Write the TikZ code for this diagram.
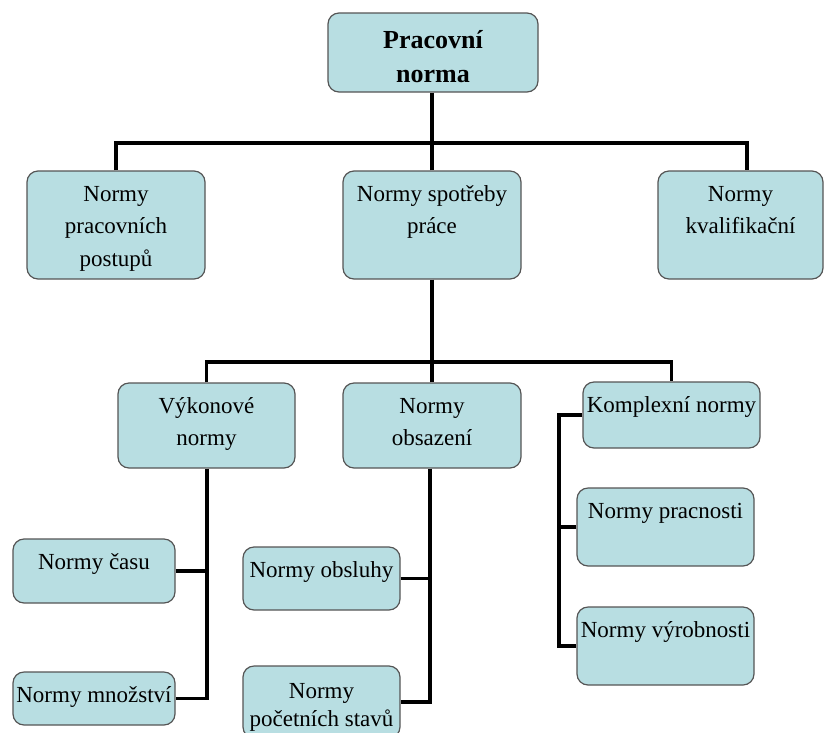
\documentclass[tikz,border=0pt]{standalone}
\usepackage{fontspec}
\setmainfont{Liberation Serif}
\definecolor{boxfill}{RGB}{184,222,226}
\definecolor{boxline}{RGB}{85,85,85}
\begin{document}
\begin{tikzpicture}[x=1pt,y=-1pt,
  box/.style={draw=boxline,line width=1.2pt,fill=boxfill,rounded corners=11pt,inner sep=0pt},
  lbl/.style={anchor=north,inner sep=0pt,align=center,yshift=-8pt,
    font=\fontsize{23}{32.5}\selectfont},
  conn/.style={line width=3.6pt,black}]
\useasboundingbox (0,0) rectangle (825,732);
% boxes (given by corners)
\newcommand{\mkbox}[7][]{%
  \node[box,minimum width=#5-#3,minimum height=#6-#4] (#2) at ({(#3+#5)/2},{(#4+#6)/2}) {};
  \node[lbl,#1] (#2t) at (#2.north) {\strut #7};}
\mkbox[font=\fontsize{26}{34}\selectfont\bfseries,yshift=-4pt]{top}{328}{13}{538}{92}{Pracovní\\norma}
\mkbox{npp}{27}{171}{205}{279}{Normy\\pracovních\\postupů}
\mkbox{nsp}{343}{171}{521}{279}{Normy spotřeby\\práce}
\mkbox{nkv}{658}{171}{823}{279}{Normy\\kvalifikační}
\mkbox{vyk}{118}{383}{295}{468}{Výkonové\\normy}
\mkbox{obs}{343}{383}{521}{468}{Normy\\obsazení}
\mkbox{kom}{583}{382}{760}{448}{Komplexní normy}
\mkbox{cas}{13}{539}{175}{603}{Normy času}
\mkbox{mno}{13}{672}{175}{725}{Normy množství}
\mkbox{obl}{243}{547}{400}{610}{Normy obsluhy}
\mkbox[font=\fontsize{23}{28}\selectfont,yshift=-5pt]{poc}{243}{666}{400}{738}{Normy\\početních stavů}
\mkbox{pra}{577}{488}{754}{566}{Normy pracnosti}
\mkbox{vyr}{577}{607}{754}{685}{Normy výrobnosti}
% bus coordinates
\coordinate (b1) at (432,143);
\coordinate (b2) at (432,362);
\coordinate (s1) at (207,0);
\coordinate (s2) at (430,0);
\coordinate (s3) at (559,0);
\coordinate (k1) at (747,0);
% level 1
\draw[conn] (top.south -| b1) -- (b1);
\draw[conn] (npp.north) |- (b1);
\draw[conn] (b1) -| (nkv.north -| k1);
\draw[conn] (nsp.north -| b1) -- (b1);
% level 2
\draw[conn] (nsp.south -| b2) -- (b2);
\draw[conn] (vyk.north) |- (b2);
\draw[conn] (b2) -| (kom.north);
\draw[conn] (obs.north -| b2) -- (b2);
% spines
\draw[conn] (vyk.south -| s1) -- (mno.east -| s1) -- (mno.east);
\draw[conn] (cas.east) -- (cas.east -| s1);
\draw[conn] (obs.south -| s2) -- (poc.east -| s2) -- (poc.east);
\draw[conn] (obl.east) -- (obl.east -| s2);
\draw[conn] (kom.west) -- (kom.west -| s3) -- (vyr.west -| s3) -- (vyr.west);
\draw[conn] (pra.west) -- (pra.west -| s3);
\end{tikzpicture}
\end{document}
